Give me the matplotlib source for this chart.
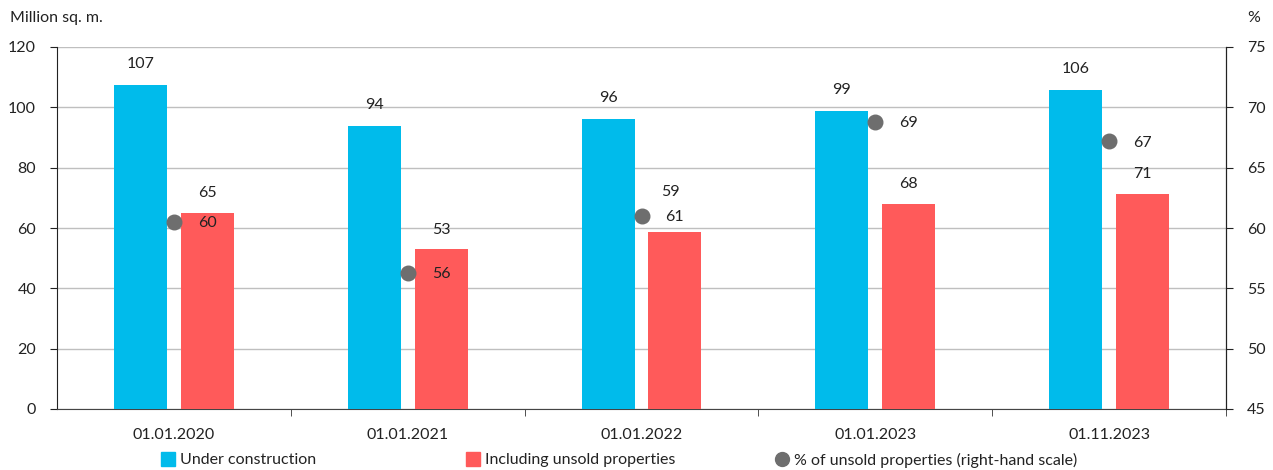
import matplotlib
matplotlib.use("Agg")
import matplotlib.pyplot as plt
from matplotlib.lines import Line2D
import numpy as np

plt.rcParams['font.family'] = ['Lato', 'DejaVu Sans']

categories = ["01.01.2020", "01.01.2021", "01.01.2022", "01.01.2023", "01.11.2023"]
under_construction = [107.4, 93.8, 96.1, 98.8, 105.7]
under_labels = ["107", "94", "96", "99", "106"]
unsold = [65.0, 53.0, 58.7, 68.0, 71.3]
unsold_labels = ["65", "53", "59", "68", "71"]
share_unsold = [60.5, 56.3, 61.0, 68.8, 67.2]
share_labels = ["60", "56", "61", "69", "67"]

BLUE = "#00BBEB"
RED = "#FF5A5A"
GRAY = "#6E6E6E"
TXT = "#222222"
FS = 11.5

fig = plt.figure(figsize=(12.73, 4.70), dpi=100)
ax = fig.add_axes([57/1273, 61/470, (1226-57)/1273, (409-47)/470])
ax2 = ax.twinx()

x = np.arange(len(categories))
w = 0.227
off = 0.143
ax.bar(x - off, under_construction, width=w, color=BLUE, zorder=3)
ax.bar(x + off, unsold, width=w, color=RED, zorder=3)

for xi, v, lab in zip(x, under_construction, under_labels):
    ax.annotate(lab, (xi - off, v), xytext=(0, 10), textcoords="offset points",
                ha="center", va="bottom", fontsize=FS, color=TXT)
red_label_lift = [9, 9, 24, 9, 9]
for xi, v, lab, dy in zip(x, unsold, unsold_labels, red_label_lift):
    ax.annotate(lab, (xi + off, v), xytext=(-3 if dy > 9 else 0, dy), textcoords="offset points",
                ha="center", va="bottom", fontsize=FS, color=TXT)

ax2.scatter(x, share_unsold, s=110, color=GRAY, zorder=5)
for xi, v, lab in zip(x, share_unsold, share_labels):
    ax2.annotate(lab, (xi, v), xytext=(24, -1), textcoords="offset points",
                 ha="center", va="center", fontsize=FS, color=TXT)

ax.set_xlim(-0.5, 4.5)
ax.set_ylim(0, 120)
ax.set_yticks(np.arange(0, 121, 20))
ax2.set_ylim(45, 75)
ax2.set_yticks(np.arange(45, 76, 5))

ax.set_xticks(x)
ax.set_xticklabels(categories, fontsize=FS, color=TXT)
ax.set_xticks(np.arange(0.5, 5, 1), minor=True)
ax.tick_params(axis="x", which="major", length=0, pad=14)
ax.tick_params(axis="x", which="minor", length=5, color="#333333")

ax.grid(axis="y", color="#BFBFBF", linewidth=1, zorder=0)
ax.set_axisbelow(True)
for a in (ax, ax2):
    a.spines["top"].set_visible(False)
ax.spines["left"].set_color("#222222")
ax2.spines["right"].set_color("#222222")
ax.spines["bottom"].set_color("#444444")
ax2.spines["left"].set_visible(False)
ax2.spines["bottom"].set_visible(False)
ax.tick_params(axis="y", labelsize=FS, colors=TXT, length=5, pad=10)
ax2.tick_params(axis="y", labelsize=FS, colors=TXT, length=5, pad=10)

fig.text(10/1273, 1 - 18/470, "Million sq. m.", fontsize=FS, color=TXT, va="center", ha="left")
fig.text(1260/1273, 1 - 18/470, "%", fontsize=FS, color=TXT, va="center", ha="right")

entries = [
    (Line2D([], [], marker="s", linestyle="none", markersize=10, color=BLUE), "Under construction", 162),
    (Line2D([], [], marker="s", linestyle="none", markersize=10, color=RED), "Including unsold properties", 467),
    (Line2D([], [], marker="o", linestyle="none", markersize=10, color=GRAY), "% of unsold properties (right-hand scale)", 776),
]
for h, lab, px in entries:
    fig.legend([h], [lab], loc="center left", bbox_to_anchor=(px/1273, 1 - 460/470),
               frameon=False, fontsize=FS, handlelength=0.8, handletextpad=0.3,
               borderpad=0, borderaxespad=0, labelcolor=TXT)

fig.savefig("out.png", dpi=100)
